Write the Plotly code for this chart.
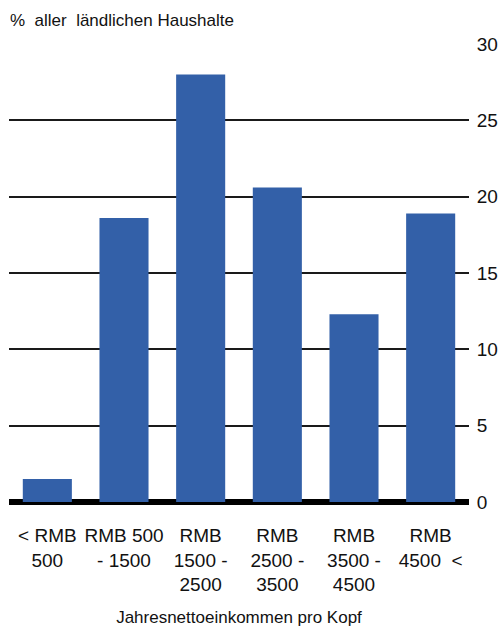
import plotly.graph_objects as go

categories = ["< RMB<br>500", "RMB 500<br>- 1500", "RMB<br>1500 -<br>2500",
              "RMB<br>2500 -<br>3500", "RMB<br>3500 -<br>4500", "RMB<br>4500  <"]
values = [1.5, 18.6, 28.0, 20.6, 12.3, 18.9]
y_ticks = [0, 5, 10, 15, 20, 25, 30]

FONT = "Liberation Sans Narrow, Arial Narrow, Liberation Sans, Arial, sans-serif"

fig = go.Figure(go.Bar(x=categories, y=values, marker=dict(color="#3360A8", line=dict(width=0)),
                       width=0.64))

fig.update_layout(
    width=501, height=632,
    margin=dict(l=9, r=32, t=44, b=130, autoexpand=False),
    paper_bgcolor="white", plot_bgcolor="white",
    font=dict(family=FONT, size=18, color="#111111"),
    showlegend=False,
    xaxis=dict(
        showgrid=False, showline=False, zeroline=False, automargin=False,
        tickfont=dict(size=19), ticks="outside", ticklen=16, tickcolor="rgba(0,0,0,0)",
        title=dict(text="Jahresnettoeinkommen pro Kopf", font=dict(size=17), standoff=16),
    ),
    yaxis=dict(
        side="right", range=[0, 30], tickvals=y_ticks, automargin=False,
        showgrid=True, gridcolor="#1a1a1a", gridwidth=1.5,
        zeroline=True, zerolinecolor="#000000", zerolinewidth=6,
        showline=False, ticks="outside", ticklen=3, tickcolor="rgba(0,0,0,0)",
        tickfont=dict(size=19),
    ),
    annotations=[dict(
        text="%\u00a0 aller\u00a0 ländlichen Haushalte", xref="paper", yref="paper",
        x=-0.003, y=1.0, xanchor="left", yanchor="bottom", yshift=12,
        showarrow=False, font=dict(size=17, family=FONT),
    )],
)

fig.write_html("out.html")
